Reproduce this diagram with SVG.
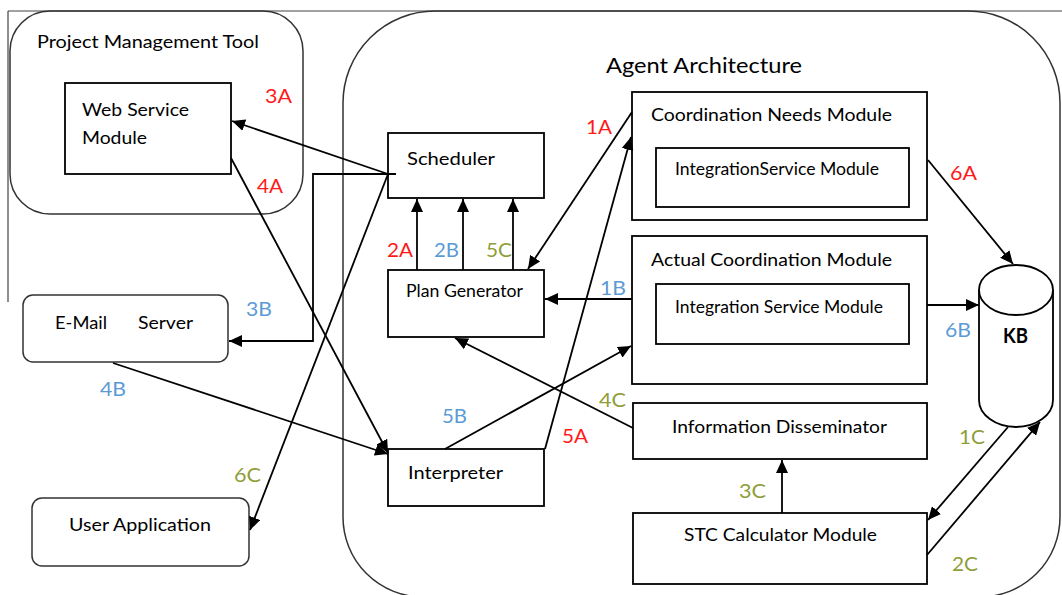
<svg xmlns="http://www.w3.org/2000/svg" width="1062" height="595" viewBox="0 0 1062 595">
<style>
.box{fill:#fff;stroke:#000;stroke-width:1.8}
.cont{fill:none;stroke:#333;stroke-width:1.5}
.t{font-family:Lato,"Liberation Sans",sans-serif;font-size:17px;fill:#000}
.lbl{font-family:Lato,"Liberation Sans",sans-serif;font-size:20px}
.r{fill:#ff1a1a}.b{fill:#5b9bd5}.g{fill:#8e9e38}
.c{fill:none;stroke:#000;stroke-width:1.8;marker-end:url(#ah)}
.cn{fill:none;stroke:#000;stroke-width:1.8}
</style>
<defs>
<marker id="ah" markerUnits="userSpaceOnUse" markerWidth="14" markerHeight="12" refX="13" refY="6" orient="auto">
<path d="M0,0 L13,6 L0,12 z" fill="#000"/>
</marker>
</defs>
<rect width="1062" height="595" fill="#fff"/>
<g id="frame">
<path d="M8,11 H1062 M8,11 V302" fill="none" stroke="#444" stroke-width="1.2"/>
</g>
<g id="project-management-tool">
<rect class="cont" x="10" y="11" width="293" height="203" rx="40"/>
<text class="t" x="37" y="48" textLength="222" lengthAdjust="spacingAndGlyphs">Project Management Tool</text>
</g>
<g id="web-service-module">
<rect class="box" x="65" y="83" width="166" height="91"/>
<text class="t" x="82" y="116" textLength="107" lengthAdjust="spacingAndGlyphs">Web Service</text>
<text class="t" x="82" y="144" textLength="65" lengthAdjust="spacingAndGlyphs">Module</text>
</g>
<g id="email-server">
<rect class="cont" x="23" y="295" width="205" height="67" rx="10"/>
<text class="t" x="55" y="329" textLength="52" lengthAdjust="spacingAndGlyphs">E-Mail</text>
<text class="t" x="138" y="329" textLength="55" lengthAdjust="spacingAndGlyphs">Server</text>
</g>
<g id="user-application">
<rect class="cont" x="32" y="498" width="217" height="68" rx="10"/>
<text class="t" x="69" y="531" textLength="142" lengthAdjust="spacingAndGlyphs">User Application</text>
</g>
<g id="agent-architecture">
<path class="cont" d="M423,597 A80,80 0 0 1 343,517 V103 A92,92 0 0 1 435,11 H968 A92,92 0 0 1 1060,103 V517 A80,80 0 0 1 980,597"/>
<text class="t" x="606" y="73" style="font-size:21px" textLength="196" lengthAdjust="spacingAndGlyphs">Agent Architecture</text>
</g>
<g id="scheduler">
<rect class="box" x="388" y="133" width="156" height="65"/>
<text class="t" x="407" y="165" textLength="88" lengthAdjust="spacingAndGlyphs">Scheduler</text>
</g>
<g id="plan-generator">
<rect class="box" x="388" y="270" width="156" height="67"/>
<text class="t" x="406" y="297" textLength="117" lengthAdjust="spacingAndGlyphs">Plan Generator</text>
</g>
<g id="interpreter">
<rect class="box" x="388" y="449" width="156" height="57"/>
<text class="t" x="408" y="479" textLength="95" lengthAdjust="spacingAndGlyphs">Interpreter</text>
</g>
<g id="coordination-needs-module">
<rect class="box" x="632" y="92" width="295" height="128"/>
<text class="t" x="651" y="121" textLength="241" lengthAdjust="spacingAndGlyphs">Coordination Needs Module</text>
<rect class="box" x="656" y="148" width="253" height="59"/>
<text class="t" x="675" y="175" textLength="204" lengthAdjust="spacingAndGlyphs">IntegrationService Module</text>
</g>
<g id="actual-coordination-module">
<rect class="box" x="632" y="236" width="295" height="148"/>
<text class="t" x="651" y="266" textLength="241" lengthAdjust="spacingAndGlyphs">Actual Coordination Module</text>
<rect class="box" x="656" y="284" width="253" height="60"/>
<text class="t" x="675" y="313" textLength="208" lengthAdjust="spacingAndGlyphs">Integration Service Module</text>
</g>
<g id="information-disseminator">
<rect class="box" x="633" y="403" width="294" height="56"/>
<text class="t" x="672" y="433" textLength="215" lengthAdjust="spacingAndGlyphs">Information Disseminator</text>
</g>
<g id="stc-calculator-module">
<rect class="box" x="633" y="513" width="294" height="71"/>
<text class="t" x="684" y="541" textLength="193" lengthAdjust="spacingAndGlyphs">STC Calculator Module</text>
</g>
<g id="kb">
<path d="M979,290 V400 A37,27 0 0 0 1053,400 V290" fill="#fff" stroke="#000" stroke-width="1.8"/>
<ellipse cx="1016" cy="290" rx="37" ry="25" fill="#fff" stroke="#000" stroke-width="1.8"/>
<text class="t" x="1003" y="343" style="font-size:20px;font-weight:bold" textLength="25" lengthAdjust="spacingAndGlyphs">KB</text>
</g>
<g id="connectors">
<line class="c" x1="388" y1="174" x2="232" y2="121"/>
<polyline class="c" points="396,174 313,174 313,341 229,341"/>
<line class="c" x1="388" y1="174" x2="250" y2="530"/>
<line class="c" x1="231" y1="158" x2="388" y2="453"/>
<line class="c" x1="113" y1="363" x2="388" y2="454"/>
<line class="c" x1="417" y1="270" x2="417" y2="199"/>
<line class="c" x1="463" y1="270" x2="463" y2="199"/>
<line class="c" x1="513" y1="270" x2="513" y2="199"/>
<line class="c" x1="632" y1="112" x2="528" y2="269"/>
<line class="c" x1="632" y1="299" x2="545" y2="299"/>
<line class="c" x1="445" y1="449" x2="631" y2="346"/>
<line class="c" x1="545" y1="449" x2="631" y2="137"/>
<line class="c" x1="633" y1="428" x2="455" y2="338"/>
<line class="c" x1="928" y1="160" x2="1013" y2="264"/>
<line class="c" x1="927" y1="305" x2="979" y2="305"/>
<line class="c" x1="782" y1="513" x2="782" y2="460"/>
<line class="c" x1="1008" y1="427" x2="928" y2="520"/>
<line class="c" x1="927" y1="555" x2="1040" y2="422"/>
</g>
<g id="labels">
<text class="lbl r" x="265" y="103" textLength="27" lengthAdjust="spacingAndGlyphs">3A</text>
<text class="lbl r" x="257" y="193" textLength="26" lengthAdjust="spacingAndGlyphs">4A</text>
<text class="lbl r" x="586" y="134" textLength="26" lengthAdjust="spacingAndGlyphs">1A</text>
<text class="lbl r" x="387" y="257" textLength="26" lengthAdjust="spacingAndGlyphs">2A</text>
<text class="lbl b" x="434" y="257" textLength="25" lengthAdjust="spacingAndGlyphs">2B</text>
<text class="lbl g" x="486" y="257" textLength="26" lengthAdjust="spacingAndGlyphs">5C</text>
<text class="lbl b" x="600" y="295" textLength="26" lengthAdjust="spacingAndGlyphs">1B</text>
<text class="lbl r" x="950" y="180" textLength="27" lengthAdjust="spacingAndGlyphs">6A</text>
<text class="lbl b" x="945" y="337" textLength="26" lengthAdjust="spacingAndGlyphs">6B</text>
<text class="lbl g" x="599" y="407" textLength="27" lengthAdjust="spacingAndGlyphs">4C</text>
<text class="lbl r" x="562" y="443" textLength="26" lengthAdjust="spacingAndGlyphs">5A</text>
<text class="lbl b" x="442" y="423" textLength="25" lengthAdjust="spacingAndGlyphs">5B</text>
<text class="lbl g" x="739" y="498" textLength="27" lengthAdjust="spacingAndGlyphs">3C</text>
<text class="lbl g" x="959" y="444" textLength="26" lengthAdjust="spacingAndGlyphs">1C</text>
<text class="lbl g" x="952" y="571" textLength="26" lengthAdjust="spacingAndGlyphs">2C</text>
<text class="lbl b" x="246" y="316" textLength="26" lengthAdjust="spacingAndGlyphs">3B</text>
<text class="lbl b" x="100" y="396" textLength="26" lengthAdjust="spacingAndGlyphs">4B</text>
<text class="lbl g" x="234" y="482" textLength="27" lengthAdjust="spacingAndGlyphs">6C</text>
</g>
</svg>
